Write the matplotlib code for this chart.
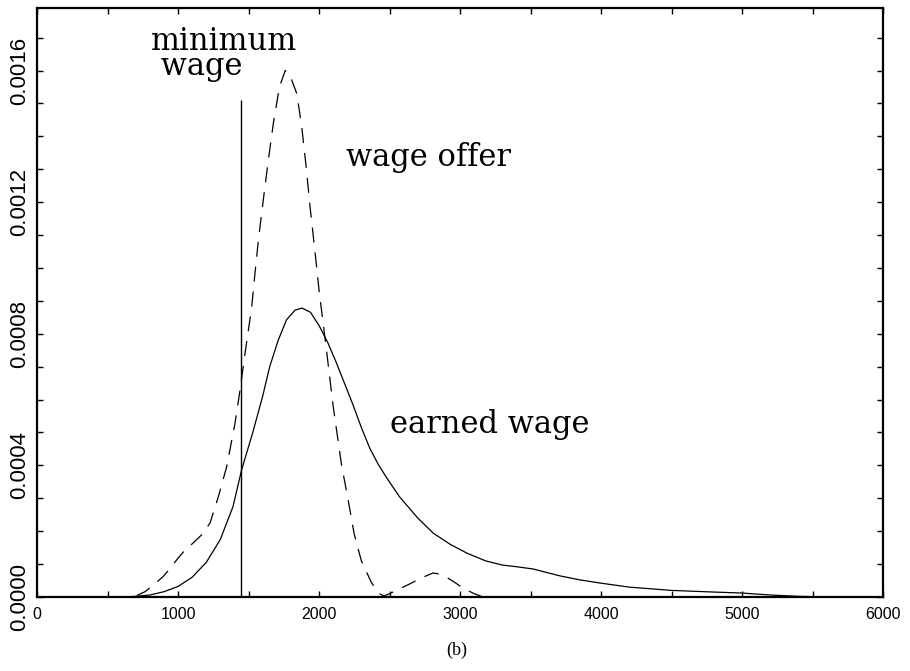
import matplotlib
matplotlib.use("Agg")
import matplotlib.pyplot as plt
import numpy as np

# earned wage density (solid)
earned_x = [0, 600, 700, 800, 900, 1000, 1100, 1200, 1300, 1390, 1450, 1530, 1600,
            1650, 1710, 1770, 1830, 1880, 1940, 2000, 2060, 2120, 2180, 2240, 2300,
            2360, 2420, 2480, 2570, 2700, 2810, 2930, 3050, 3180, 3300, 3400, 3520,
            3600, 3710, 3850, 4000, 4200, 4500, 4800, 5000, 5200, 5400, 5600, 6000]
earned_y = [0, 0, 0.000002, 0.000006, 0.000016, 0.000032, 0.000060, 0.000105,
            0.000175, 0.000275, 0.000385, 0.000500, 0.000610, 0.000700, 0.000780,
            0.000843, 0.000872, 0.000878, 0.000865, 0.000825, 0.000775, 0.000715,
            0.000650, 0.000585, 0.000515, 0.000452, 0.000403, 0.000362, 0.000305,
            0.000240, 0.000194, 0.000160, 0.000133, 0.000110, 0.000097, 0.000092,
            0.000085, 0.000076, 0.000064, 0.000052, 0.000042, 0.000030, 0.000020,
            0.000015, 0.000012, 0.000006, 0.000002, 0, 0]

# wage offer density (dashed)
offer_x = [0, 650, 700, 766, 830, 894, 950, 1000, 1050, 1107, 1170, 1227, 1286,
           1345, 1404, 1440, 1475, 1522, 1541, 1570, 1605, 1641, 1676, 1719, 1760,
           1790, 1842, 1877, 1908, 1936, 1972, 2002, 2050, 2100, 2160, 2200, 2250,
           2300, 2370, 2420, 2460, 2500, 2570, 2645, 2720, 2809, 2850, 2893, 2960,
           3022, 3100, 3164, 6000]
offer_y = [0, 0, 0.000003, 0.000016, 0.000038, 0.000062, 0.000090, 0.000118,
           0.000143, 0.000164, 0.000190, 0.000225, 0.000305, 0.000396, 0.000528,
           0.000630, 0.000740, 0.000880, 0.000964, 0.001086, 0.001208, 0.001330,
           0.001440, 0.001550, 0.001600, 0.001590, 0.001530, 0.001430, 0.001310,
           0.001187, 0.001046, 0.000925, 0.000760, 0.000580, 0.000400, 0.000310,
           0.000190, 0.000110, 0.000045, 0.000012, 0.000003, 0.000010, 0.000025,
           0.000040, 0.000057, 0.000073, 0.000070, 0.000063, 0.000045, 0.000027,
           0.000010, 0, 0]

min_wage = 1450
min_wage_top = 0.00151

xticks = [0, 1000, 2000, 3000, 4000, 5000, 6000]
xlabels = ["0", "1000", "2000", "3000", "4000", "5000", "6000"]
yticks = [0.0, 0.0004, 0.0008, 0.0012, 0.0016]
ylabels = ["0.0000", "0.0004", "0.0008", "0.0012", "0.0016"]

fig = plt.figure(figsize=(9.1, 6.71), dpi=100)
ax = fig.add_axes([0.0407, 0.1103, 0.9297, 0.8777])

ax.plot(earned_x, earned_y, color="black", lw=0.9)
line, = ax.plot(offer_x, offer_y, color="black", lw=0.9)
line.set_dashes((12, 8))
ax.vlines(min_wage, 0, min_wage_top, color="black", lw=1.0)

ax.set_xlim(0, 6000)
ax.set_ylim(0, 0.00179)

ax.set_xticks(xticks)
ax.set_xticklabels(xlabels, fontfamily="Liberation Sans", fontsize=11.5)
ax.set_xticks(np.arange(0, 6001, 500), minor=True)
ax.set_yticks(yticks)
ax.set_yticklabels(ylabels, rotation=90, va="center", fontfamily="Liberation Sans",
                   fontsize=16)
ax.set_yticks(np.arange(0, 0.00175, 0.0001), minor=True)

ax.tick_params(which="both", direction="in", top=True, right=True,
               length=4.5, width=1.0)
ax.tick_params(axis="x", pad=7)
ax.tick_params(axis="y", pad=5)
for s in ax.spines.values():
    s.set_linewidth(1.6)

serif = dict(fontfamily="DejaVu Serif", fontsize=22, ha="left", va="baseline")
# baseline of the last line ("wage")
ax.text(806, 0.001588, "minimum\n wage", linespacing=0.72, **serif)
ax.text(2191, 0.001309, "wage offer", **serif)
ax.text(2504, 0.000499, "earned wage", **serif)

fig.text(0.502, 0.031, "(b)", ha="center", va="center",
         fontfamily="Liberation Serif", fontsize=13)

fig.savefig("out.png", dpi=100)
